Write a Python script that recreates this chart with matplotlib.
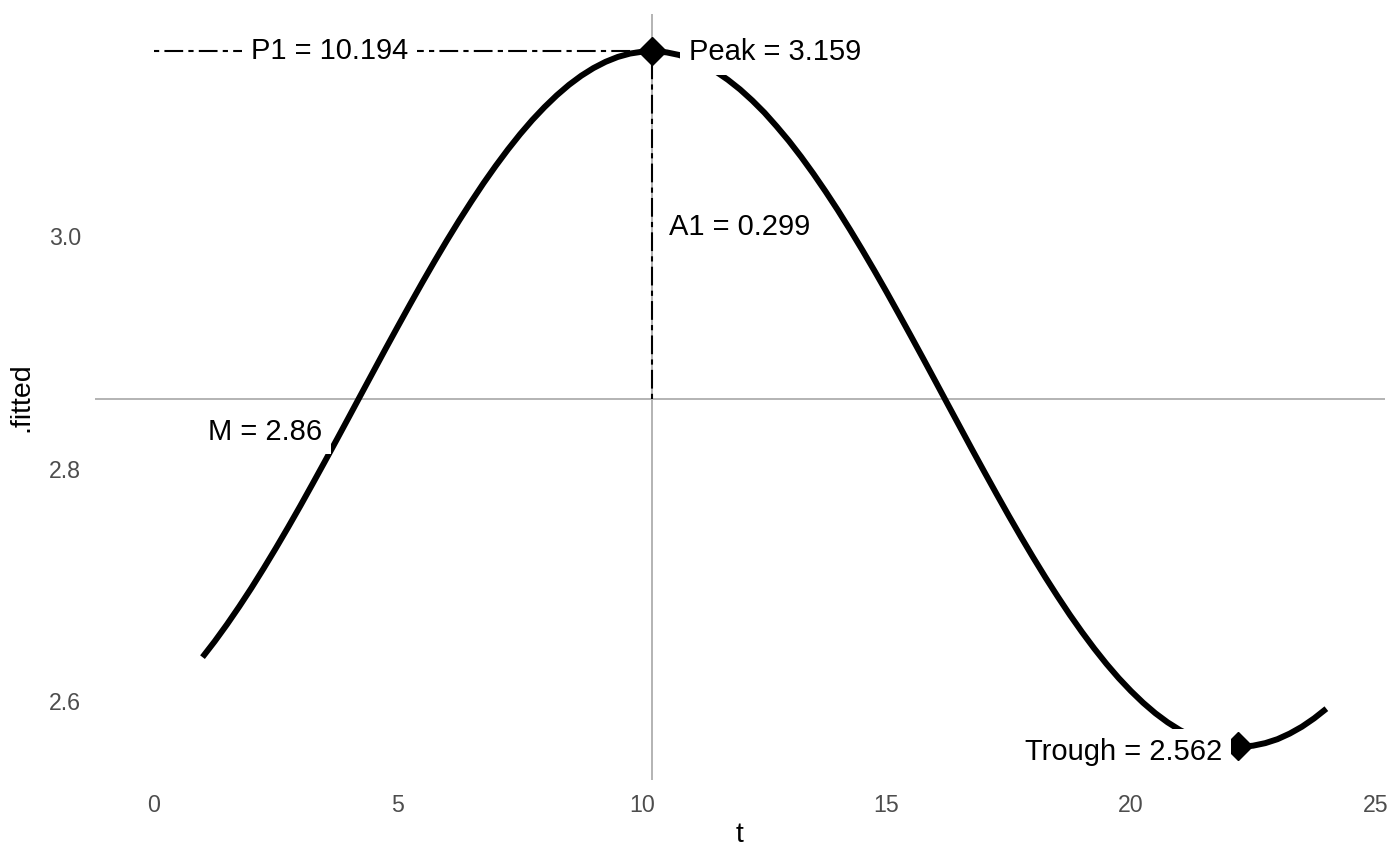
import matplotlib
matplotlib.use("Agg")
import matplotlib.pyplot as plt

plt.rcParams['font.family'] = ['Liberation Sans', 'DejaVu Sans']

# fitted curve values (t in hours, every quarter hour)
t_vals = [1, 1.25, 1.5, 1.75, 2, 2.25, 2.5, 2.75, 3, 3.25, 3.5, 3.75,
          4, 4.25, 4.5, 4.75, 5, 5.25, 5.5, 5.75, 6, 6.25, 6.5, 6.75,
          7, 7.25, 7.5, 7.75, 8, 8.25, 8.5, 8.75, 9, 9.25, 9.5, 9.75,
          10, 10.25, 10.5, 10.75, 11, 11.25, 11.5, 11.75, 12, 12.25, 12.5, 12.75,
          13, 13.25, 13.5, 13.75, 14, 14.25, 14.5, 14.75, 15, 15.25, 15.5, 15.75,
          16, 16.25, 16.5, 16.75, 17, 17.25, 17.5, 17.75, 18, 18.25, 18.5, 18.75,
          19, 19.25, 19.5, 19.75, 20, 20.25, 20.5, 20.75, 21, 21.25, 21.5, 21.75,
          22, 22.25, 22.5, 22.75, 23, 23.25, 23.5, 23.75, 24]
fitted = [2.6381, 2.6517, 2.6662, 2.6815, 2.6975, 2.7143, 2.7317, 2.7496,
          2.7680, 2.7869, 2.8060, 2.8253, 2.8448, 2.8644, 2.8839, 2.9034,
          2.9226, 2.9416, 2.9603, 2.9785, 2.9962, 3.0133, 3.0297, 3.0455,
          3.0604, 3.0745, 3.0877, 3.0999, 3.1110, 3.1211, 3.1301, 3.1379,
          3.1445, 3.1499, 3.1541, 3.1570, 3.1586, 3.1590, 3.1580, 3.1558,
          3.1524, 3.1476, 3.1417, 3.1345, 3.1262, 3.1167, 3.1062, 3.0944,
          3.0819, 3.0683, 3.0538, 3.0385, 3.0225, 3.0057, 2.9883, 2.9704,
          2.9520, 2.9331, 2.9140, 2.8947, 2.8752, 2.8556, 2.8361, 2.8166,
          2.7974, 2.7784, 2.7597, 2.7415, 2.7238, 2.7067, 2.6903, 2.6745,
          2.6596, 2.6455, 2.6323, 2.6201, 2.6090, 2.5989, 2.5899, 2.5821,
          2.5755, 2.5701, 2.5659, 2.5630, 2.5614, 2.5610, 2.5620, 2.5642,
          2.5676, 2.5724, 2.5783, 2.5855, 2.5938]

mesor = 2.86
amplitude = 0.299
acrophase = 10.194
peak_val = 3.159
trough_time = 22.194
trough_val = 2.562
seg_start = 0

x_ticks = [0, 5, 10, 15, 20, 25]
y_ticks = [2.6, 2.8, 3.0]
y_tick_labels = ["2.6", "2.8", "3.0"]

fig = plt.figure(figsize=(14, 8.65), dpi=100)
ax = fig.add_axes([95/1400, 85/865, 1290/1400, 766/865])

gray = '#b3b3b3'
ax.axvline(acrophase, color=gray, lw=1.4, zorder=1)
ax.axhline(mesor, color=gray, lw=1.4, zorder=1)

ax.plot(t_vals, fitted, color='black', lw=4.3, solid_capstyle='butt',
        solid_joinstyle='round', zorder=3)

dash = (0, (2.5, 2.5, 9, 2.5))
ax.plot([seg_start, acrophase], [peak_val, peak_val], color='black', lw=1.5,
        linestyle=dash, zorder=2)
ax.plot([acrophase, acrophase], [mesor, peak_val], color='black', lw=1.5,
        linestyle=dash, zorder=2)

ax.plot([acrophase], [peak_val], marker='D', ms=14, color='black', zorder=4)
ax.plot([trough_time], [trough_val], marker='D', ms=14, color='black', zorder=4)

box = dict(boxstyle='square,pad=0.3', fc='white', ec='none')
fs = 21
ax.text(3.6, peak_val, f"P1 = {acrophase}", ha='center', va='center',
        fontsize=fs, bbox=box, zorder=5)
ax.text(10.95, peak_val - 0.001, f"Peak = {peak_val}", ha='left', va='center',
        fontsize=fs, bbox=box, zorder=5)
ax.text(10.55, 3.008, f"A1 = {amplitude}", ha='left', va='center',
        fontsize=fs, bbox=box, zorder=5)
ax.text(3.45, 2.832, f"M = {mesor}", ha='right', va='center',
        fontsize=fs, bbox=box, zorder=5)
ax.text(21.87, 2.557, f"Trough = {trough_val}", ha='right', va='center',
        fontsize=fs, bbox=box, zorder=5)

ax.set_xlim(-1.2, 25.2)
ax.set_ylim(2.5325, 3.191)
ax.set_xticks(x_ticks)
ax.set_yticks(y_ticks)
ax.set_yticklabels(y_tick_labels)
ax.tick_params(length=0, labelsize=16.7, labelcolor='#4d4d4d', pad=10)
for s in ax.spines.values():
    s.set_visible(False)
ax.set_xlabel("t", fontsize=20.5, labelpad=4)
ax.set_ylabel(".fitted", fontsize=20.5, labelpad=10.5)

fig.savefig("out.png", dpi=100)
